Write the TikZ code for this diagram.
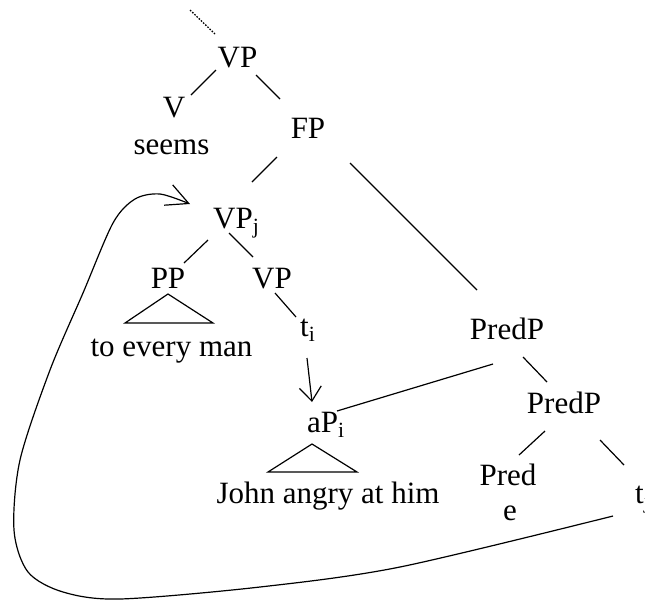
\documentclass[tikz,border=0pt]{standalone}
\usepackage{fontspec}
\setmainfont{Liberation Serif}
\usetikzlibrary{arrows.meta}

\begin{document}
\begin{tikzpicture}[
  x=1pt, y=-1pt,
  lbl/.style={font=\fontsize{31}{36}\selectfont, inner sep=0pt, anchor=base},
  branch/.style={line width=1.2pt},
  move/.style={line width=1.2pt, -{Straight Barb[length=22pt,width=22pt]}},
  drop/.style={line width=1.2pt, -{Straight Barb[length=14pt,width=22pt]}}
]
\useasboundingbox (0,0) rectangle (645,603);

\node[lbl] (vp) at (237.5,67) {VP};
\node[lbl] (v) at (174,117) {V};
\node[lbl] (seems) at (171.5,154) {seems};
\node[lbl] (fp) at (308,138) {FP};
\node[lbl, anchor=base west] (vpj) at (213,228) {VP\textsubscript{j}};
\node[lbl] (pp) at (168,288) {PP};
\node[lbl] (vpb) at (272,288) {VP};
\node[lbl] (man) at (171.5,356) {to every man};
\node[lbl, anchor=base west] (ti) at (300,336) {t\textsubscript{i}};
\node[lbl] (predp) at (507,339) {PredP};
\node[lbl] (predq) at (564,413) {PredP};
\node[lbl, anchor=base west] (api) at (307,432) {aP\textsubscript{i}};
\node[lbl] (john) at (328,503) {John angry at him};
\node[lbl] (pred) at (508,485) {Pred};
\node[lbl] (e) at (510,520) {e};
\node[lbl, anchor=base west] (tj) at (635,503) {t\textsubscript{j}};
\coordinate (up) at (190,10);

% branches
\draw[line width=1.3pt, dash pattern=on 1.5pt off 1.5pt] ([shift={(-22.5,-33)}]vp.base) -- (up);
\draw[branch] ([shift={(-21.5,3)}]vp.base) -- ([shift={(17,-22)}]v.base);
\draw[branch] ([shift={(18.5,8)}]vp.base) -- ([shift={(-28,-39)}]fp.base);
\draw[branch] ([shift={(-31,19)}]fp.base) -- ([shift={(39,-46)}]vpj.base west);
\draw[branch] ([shift={(42,25)}]fp.base) -- ([shift={(-30,-49)}]predp.base);
\draw[branch] ([shift={(-5,12)}]vpj.base west) -- ([shift={(16,-25)}]pp.base);
\draw[branch] ([shift={(16,5)}]vpj.base west) -- ([shift={(-19,-31)}]vpb.base);
\draw[branch] ([shift={(3,5)}]vpb.base) -- ([shift={(-4,-19)}]ti.base west);
\draw[branch] ([shift={(-14,25)}]predp.base) -- ([shift={(30,-21)}]api.base west);
\draw[branch] ([shift={(16,18)}]predp.base) -- ([shift={(-17,-31)}]predq.base);
\draw[branch] ([shift={(-19,18)}]predq.base) -- ([shift={(11,-30)}]pred.base);
\draw[branch] ([shift={(36,27)}]predq.base) -- ([shift={(-11,-38)}]tj.base west);

% triangles
\draw[branch] ([shift={(0,6)}]pp.base) -- ([shift={(45,35)}]pp.base)
  -- ([shift={(-43,35)}]pp.base) -- cycle;
\draw[branch] ([shift={(5,12)}]api.base west) -- ([shift={(50,40)}]api.base west)
  -- ([shift={(-39,40)}]api.base west) -- cycle;

% movement
\draw[drop] ([shift={(7,22)}]ti.base west) -- ([shift={(5,-30)}]api.base west);
\draw[move] plot[smooth] coordinates {([shift={(-22,13)}]tj.base west) (400,567)
  (260,587) (120,599) (63,592) (28,572) (14,530) (20,460) (50,370) (83,293)
  (113,223) (135,199) (160,194) ([shift={(-23,-24)}]vpj.base west)};
\end{tikzpicture}
\end{document}
